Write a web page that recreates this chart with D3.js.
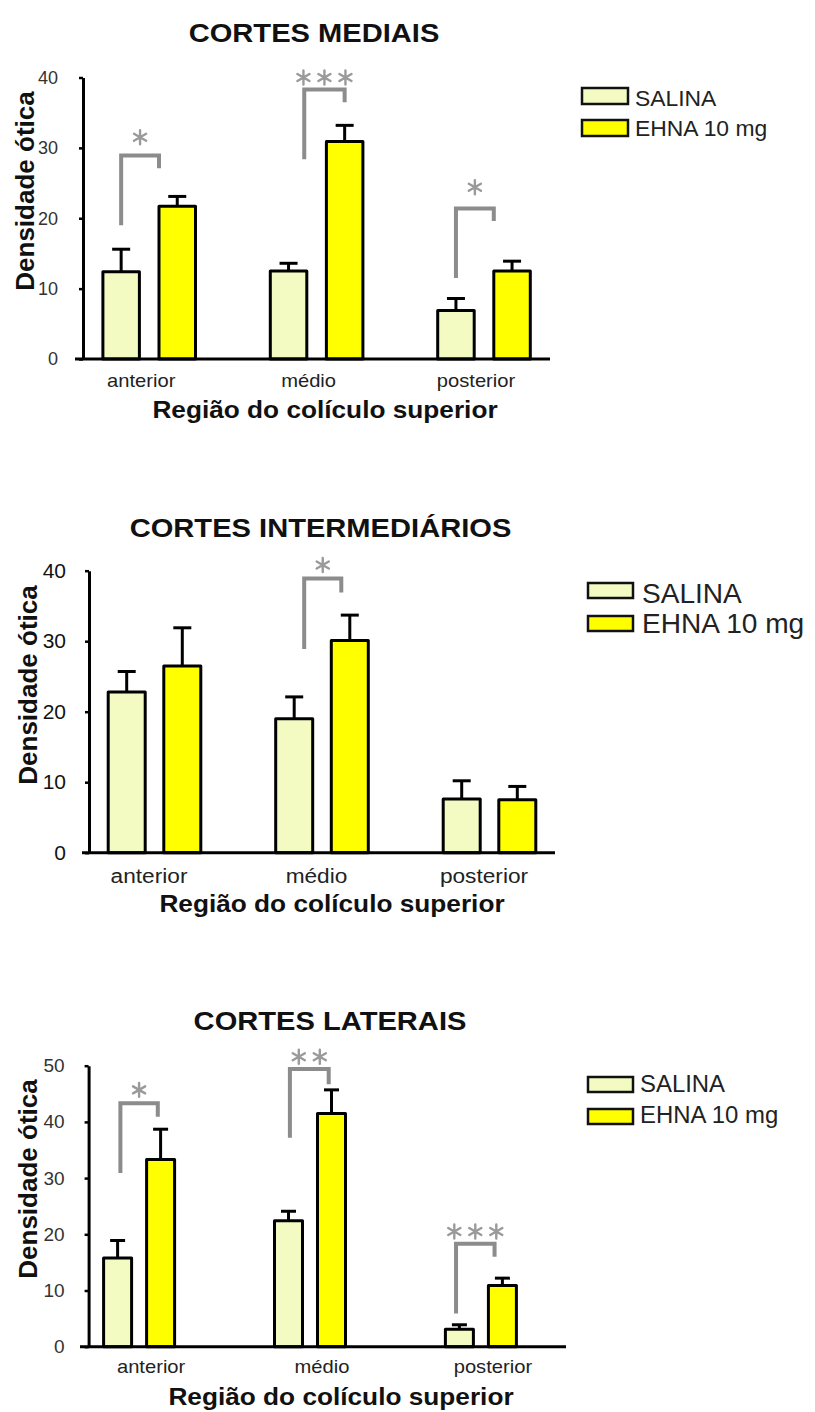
<!DOCTYPE html>
<html>
<head>
<meta charset="utf-8">
<script src="https://cdn.jsdelivr.net/npm/d3@7"></script>
<style>
  html, body { margin: 0; padding: 0; background: #fff; }
  svg { display: block; font-family: Arial, "Liberation Sans", Helvetica, sans-serif; }
</style>
</head>
<body>
<script>
// Regions of the superior colliculus and the two treatment groups
const categories = ["anterior", "médio", "posterior"];
const series = ["SALINA", "EHNA 10 mg"];

// Cortes mediais: means and SEM
const medialSalina = [12.4, 12.5, 6.9];
const medialSalinaErr = [3.2, 1.1, 1.7];
const medialEhna = [21.7, 30.9, 12.5];
const medialEhnaErr = [1.4, 2.3, 1.4];
const medialTicks = [0, 10, 20, 30, 40];

// Cortes intermediários
const interSalina = [22.8, 19.0, 7.6];
const interSalinaErr = [2.9, 3.1, 2.6];
const interEhna = [26.5, 30.1, 7.5];
const interEhnaErr = [5.4, 3.6, 1.9];
const interTicks = [0, 10, 20, 30, 40];

// Cortes laterais
const lateralSalina = [15.8, 22.4, 3.1];
const lateralSalinaErr = [3.1, 1.7, 0.8];
const lateralEhna = [33.3, 41.5, 10.9];
const lateralEhnaErr = [5.4, 4.2, 1.3];
const lateralTicks = [0, 10, 20, 30, 40, 50];

// Significance marks: region, stars, bracket levels [left foot, top, right foot], star level
const medialSig = [
  { cat: "anterior", stars: 1, levels: [19.0, 28.9, 27.1], starAt: 31.5 },
  { cat: "médio", stars: 3, levels: [28.4, 38.3, 36.5], starAt: 40.0 },
  { cat: "posterior", stars: 1, levels: [11.5, 21.4, 19.6], starAt: 24.4 }
];
const interSig = [
  { cat: "médio", stars: 1, levels: [28.9, 38.9, 36.9], starAt: 40.8 }
];
const lateralSig = [
  { cat: "anterior", stars: 1, levels: [30.9, 43.3, 40.9], starAt: 45.7 },
  { cat: "médio", stars: 2, levels: [37.2, 49.4, 46.7], starAt: 51.6 },
  { cat: "posterior", stars: 3, levels: [5.9, 18.3, 16.0], starAt: 20.5 }
];

const COLORS = { "SALINA": "#f3fbc3", "EHNA 10 mg": "#ffff00" };
const GRAY = "#8c8c8c";

const svg = d3.select("body").append("svg")
  .attr("width", 815).attr("height", 1412)
  .attr("viewBox", "0 0 815 1412");
svg.append("rect").attr("width", 815).attr("height", 1412).attr("fill", "#fff");

function label(g, x, y, str, opts) {
  return g.append("text")
    .attr("transform", `translate(${x},${y}) scale(${opts.sx || 1},1)`)
    .attr("text-anchor", opts.anchor || "middle")
    .attr("font-size", opts.size)
    .attr("font-weight", opts.weight || "normal")
    .attr("fill", opts.fill || "#111")
    .text(str);
}

// six-spoke asterisk centred on (0,0)
function asteriskPath(r) {
  let d = "";
  for (let k = 0; k < 3; k++) {
    const a = Math.PI / 2 + k * Math.PI / 3;
    const dx = r * Math.cos(a), dy = r * Math.sin(a);
    d += `M${-dx},${-dy}L${dx},${dy}`;
  }
  return d;
}

function drawPanel(cfg) {
  const g = svg.append("g");
  const values = { "SALINA": cfg.salina, "EHNA 10 mg": cfg.ehna };
  const errors = { "SALINA": cfg.salinaErr, "EHNA 10 mg": cfg.ehnaErr };

  const y = d3.scaleLinear()
    .domain([0, d3.max(cfg.ticks)])
    .range([cfg.y0, cfg.yTop]);

  // group band: each band spans from the first bar's left edge to the second bar's right edge
  const groupW = 2 * cfg.barW + cfg.barGap;
  const padIn = 1 - groupW / cfg.step;
  const x0 = d3.scaleBand()
    .domain(categories)
    .range([cfg.firstLeft - (cfg.step - groupW) / 2,
            cfg.firstLeft - (cfg.step - groupW) / 2 + cfg.step * categories.length])
    .paddingInner(padIn)
    .paddingOuter(padIn / 2);
  const x1 = d3.scaleBand()
    .domain(series)
    .range([0, x0.bandwidth()])
    .paddingInner(cfg.barGap / (cfg.barW + cfg.barGap))
    .paddingOuter(0);

  const rows = [];
  categories.forEach((c, i) => series.forEach(s => rows.push({
    cat: c, s, v: values[s][i], e: errors[s][i]
  })));

  // error bars (upper whisker only)
  const eb = g.append("g").attr("stroke", "#000").attr("stroke-width", 3);
  rows.forEach(d => {
    const cx = x0(d.cat) + x1(d.s) + x1.bandwidth() / 2;
    eb.append("line").attr("x1", cx).attr("x2", cx)
      .attr("y1", y(d.v)).attr("y2", y(d.v + d.e));
    eb.append("line").attr("x1", cx - cfg.capW / 2).attr("x2", cx + cfg.capW / 2)
      .attr("y1", y(d.v + d.e)).attr("y2", y(d.v + d.e));
  });

  // bars
  g.append("g").selectAll("rect").data(rows).join("rect")
    .attr("x", d => x0(d.cat) + x1(d.s))
    .attr("y", d => y(d.v))
    .attr("width", x1.bandwidth())
    .attr("height", d => y(0) - y(d.v))
    .attr("fill", d => COLORS[d.s])
    .attr("stroke", "#000")
    .attr("stroke-width", 3)
    .attr("stroke-linejoin", "round");

  // y axis
  const yAxis = g.append("g")
    .attr("transform", `translate(${cfg.axisX},0)`)
    .call(d3.axisLeft(y).tickValues(cfg.ticks).tickSize(4).tickSizeOuter(0)
      .tickPadding(cfg.tickPad).tickFormat(d3.format("d")));
  yAxis.select(".domain").attr("stroke", "#000").attr("stroke-width", 3);
  yAxis.selectAll(".tick line").attr("stroke", "#000").attr("stroke-width", 2.5);
  yAxis.selectAll(".tick text")
    .attr("font-size", cfg.tickFont)
    .attr("font-family", "Arial, 'Liberation Sans', sans-serif")
    .attr("fill", cfg.tickColor);

  // x axis baseline
  g.append("line")
    .attr("x1", cfg.axisLeft).attr("x2", cfg.axisRight)
    .attr("y1", y(0)).attr("y2", y(0))
    .attr("stroke", "#000").attr("stroke-width", 3);

  // region labels
  categories.forEach(c => {
    label(g, x0(c) + x0.bandwidth() / 2 + cfg.catShift, cfg.catY, c,
      { size: cfg.catFont, sx: cfg.catSx, fill: "#222" });
  });

  // significance brackets and stars
  cfg.sig.forEach((m, i) => {
    const legs = cfg.legs[i];
    const xl = x0(m.cat) + x1("SALINA") + legs[0] * x1.bandwidth();
    const xr = x0(m.cat) + x1("EHNA 10 mg") + legs[1] * x1.bandwidth();
    g.append("path")
      .attr("d", `M${xl},${y(m.levels[0])}V${y(m.levels[1])}H${xr}V${y(m.levels[2])}`)
      .attr("fill", "none").attr("stroke", GRAY).attr("stroke-width", 4)
      .attr("stroke-linejoin", "miter");
    const mid = (xl + xr) / 2;
    for (let k = 0; k < m.stars; k++) {
      const sx = mid + (k - (m.stars - 1) / 2) * 21;
      g.append("path")
        .attr("transform", `translate(${sx},${y(m.starAt)})`)
        .attr("d", asteriskPath(7))
        .attr("stroke", "#9a9a9a").attr("stroke-width", 2.4)
        .attr("stroke-linecap", "round").attr("fill", "none");
    }
  });

  // titles
  label(g, cfg.titleX, cfg.titleY, cfg.title, { size: 26, weight: "bold", sx: 1.12, fill: "#111" });
  label(g, cfg.xTitleX, cfg.xTitleY, "Região do colículo superior",
    { size: 23, weight: "bold", sx: 1.14, fill: "#111" });
  g.append("text")
    .attr("transform", `translate(${cfg.yTitleX},${cfg.yTitleY}) rotate(-90)`)
    .attr("text-anchor", "middle")
    .attr("font-size", 26).attr("font-weight", "bold").attr("fill", "#111")
    .text("Densidade ótica");

  // legend
  const L = cfg.legend;
  series.forEach((s, i) => {
    const ry = i === 0 ? L.y1 : L.y2;
    g.append("rect")
      .attr("x", L.x).attr("y", ry).attr("width", L.bw).attr("height", L.bh)
      .attr("fill", COLORS[s]).attr("stroke", "#111").attr("stroke-width", 2.5);
    label(g, L.tx, i === 0 ? L.ty1 : L.ty2, s,
      { size: L.fs, anchor: "start", sx: 1.04, fill: "#222" });
  });
}

drawPanel({
  title: "CORTES MEDIAIS", titleX: 314, titleY: 42,
  salina: medialSalina, salinaErr: medialSalinaErr,
  ehna: medialEhna, ehnaErr: medialEhnaErr, ticks: medialTicks,
  y0: 359, yTop: 77.5, axisX: 83, axisLeft: 75, axisRight: 550,
  firstLeft: 102.9, step: 167.4, barW: 36.5, barGap: 19.6, capW: 18,
  tickFont: 18, tickPad: 21, tickColor: "#333",
  catY: 387, catShift: -8, catFont: 18, catSx: 1.12,
  xTitleX: 325, xTitleY: 418, yTitleX: 34, yTitleY: 191,
  sig: medialSig, legs: [[0.5, 0.0], [0.93, 0.5], [0.5, 0.0]],
  legend: { x: 582, y1: 88, y2: 120, bw: 46, bh: 16, tx: 635, ty1: 106, ty2: 136, fs: 22 }
});

drawPanel({
  title: "CORTES INTERMEDIÁRIOS", titleX: 320.5, titleY: 537,
  salina: interSalina, salinaErr: interSalinaErr,
  ehna: interEhna, ehnaErr: interEhnaErr, ticks: interTicks,
  y0: 852.7, yTop: 570.7, axisX: 89, axisLeft: 82, axisRight: 555,
  firstLeft: 108.2, step: 167.5, barW: 37, barGap: 18.6, capW: 18,
  tickFont: 21, tickPad: 19, tickColor: "#111",
  catY: 883, catShift: -5.5, catFont: 21, catSx: 1.08,
  xTitleX: 332, xTitleY: 912, yTitleX: 37, yTitleY: 685,
  sig: interSig, legs: [[0.77, 0.27]],
  legend: { x: 588, y1: 583, y2: 616, bw: 45, bh: 15, tx: 642, ty1: 603, ty2: 633, fs: 27 }
});

drawPanel({
  title: "CORTES LATERAIS", titleX: 330, titleY: 1030,
  salina: lateralSalina, salinaErr: lateralSalinaErr,
  ehna: lateralEhna, ehnaErr: lateralEhnaErr, ticks: lateralTicks,
  y0: 1346.7, yTop: 1065.7, axisX: 88.6, axisLeft: 80, axisRight: 566,
  firstLeft: 103.6, step: 170.9, barW: 28, barGap: 15, capW: 15,
  tickFont: 19, tickPad: 20, tickColor: "#333",
  catY: 1373, catShift: 12, catFont: 18, catSx: 1.12,
  xTitleX: 341, xTitleY: 1405, yTitleX: 37, yTitleY: 1179,
  sig: lateralSig, legs: [[0.6, 0.4], [0.55, 0.4], [0.38, 0.22]],
  legend: { x: 588, y1: 1077, y2: 1109, bw: 45, bh: 15, tx: 640, ty1: 1092, ty2: 1123, fs: 23 }
});
</script>
</body>
</html>
